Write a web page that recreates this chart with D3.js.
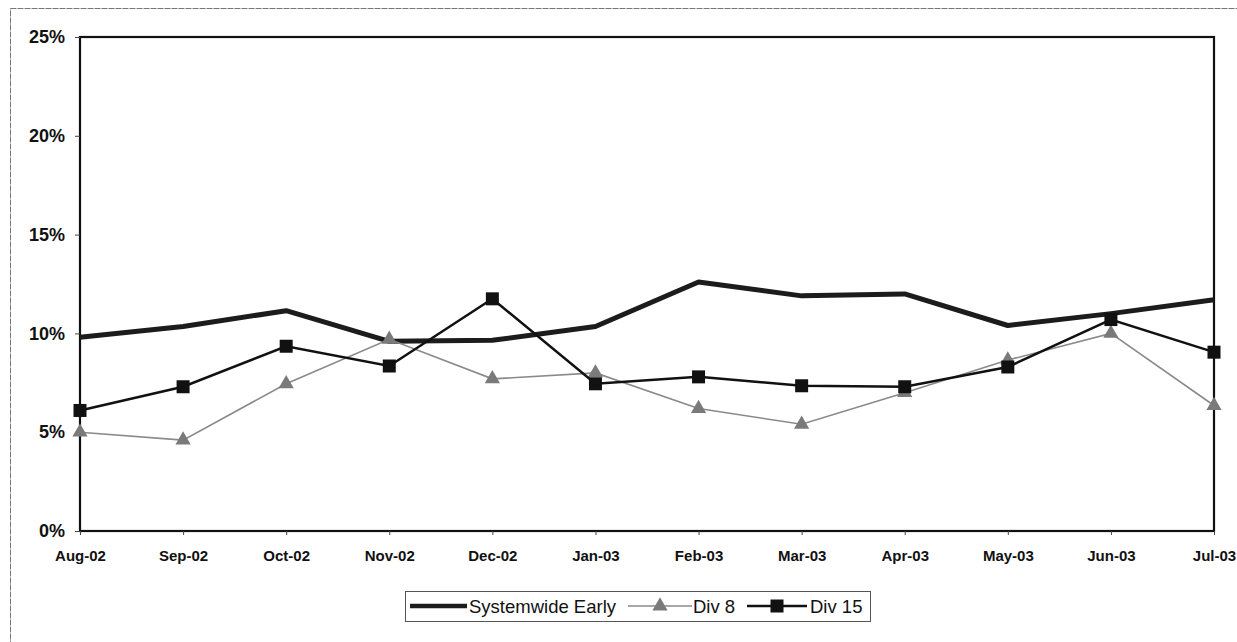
<!DOCTYPE html>
<html><head><meta charset="utf-8">
<script src="https://cdn.jsdelivr.net/npm/d3@7"></script>
<style>body{margin:0;background:#fff}svg{display:block}text{font-family:"Liberation Sans",Arial,sans-serif}</style>
</head><body><svg id="c" width="1237" height="642"></svg>
<script>
const months = ["Aug-02","Sep-02","Oct-02","Nov-02","Dec-02","Jan-03","Feb-03","Mar-03","Apr-03","May-03","Jun-03","Jul-03"];
const systemwide = [9.8,10.35,11.15,9.6,9.65,10.35,12.6,11.9,12.0,10.4,11.0,11.7];
const div8 = [5.0,4.6,7.45,9.7,7.7,8.0,6.2,5.4,7.0,8.65,10.0,6.35];
const div15 = [6.1,7.3,9.35,8.35,11.75,7.45,7.8,7.35,7.3,8.3,10.7,9.05];
const yTicks = [0,5,10,15,20,25];

const svg = d3.select("#c");
const L=80,R=1214,T=37,B=531;
const x = d3.scalePoint().domain(months).range([L,R]);
const y = d3.scaleLinear().domain([0,25]).range([B,T]);

// outer frame
svg.append("rect").attr("x",10.5).attr("y",8.5).attr("width",1240).attr("height",640)
  .attr("fill","none").attr("stroke","#777").attr("stroke-width",1).attr("stroke-dasharray","6,1");

// plot border
svg.append("rect").attr("x",L).attr("y",T).attr("width",R-L).attr("height",B-T)
  .attr("fill","none").attr("stroke","#111").attr("stroke-width",2.2);

// y axis
const ya = svg.append("g").attr("transform",`translate(${L},0)`)
  .call(d3.axisLeft(y).tickValues(yTicks).tickSize(5).tickFormat(d=>d+"%"));
ya.select(".domain").remove();
ya.selectAll("line").attr("stroke","#444");
ya.selectAll("text").style("font-size","18px").style("font-weight","bold").attr("fill","#111").attr("x",-15);

// x axis
const xa = svg.append("g").attr("transform",`translate(0,${B})`)
  .call(d3.axisBottom(x).tickSize(4));
xa.select(".domain").remove();
xa.selectAll("line").attr("stroke","#444");
xa.selectAll("text").style("font-size","15px").style("font-weight","bold").attr("fill","#111").attr("y",25).attr("dy","0.35em");

const line = d3.line().x((d,i)=>x(months[i])).y(d=>y(d));

svg.append("path").datum(systemwide).attr("d",line).attr("fill","none")
  .attr("stroke","#1c1c1c").attr("stroke-width",5).attr("stroke-linejoin","round");

svg.append("path").datum(div8).attr("d",line).attr("fill","none")
  .attr("stroke","#8a8a8a").attr("stroke-width",1.6);
svg.append("g").selectAll("path").data(div8).join("path")
  .attr("d",d3.symbol(d3.symbolTriangle,100)())
  .attr("transform",(d,i)=>`translate(${x(months[i])},${y(d)})`)
  .attr("fill","#7a7a7a");

svg.append("path").datum(div15).attr("d",line).attr("fill","none")
  .attr("stroke","#111").attr("stroke-width",2.5);
svg.append("g").selectAll("rect").data(div15).join("rect")
  .attr("x",(d,i)=>x(months[i])-6.5).attr("y",d=>y(d)-6.5).attr("width",13).attr("height",13)
  .attr("fill","#111");

// legend
const lg = svg.append("g").style("font-size","18.5px");
lg.append("rect").attr("x",405.5).attr("y",591.5).attr("width",465).attr("height",30)
  .attr("fill","#fff").attr("stroke","#555").attr("stroke-width",1);
lg.append("line").attr("x1",410).attr("x2",467).attr("y1",606).attr("y2",606).attr("stroke","#1c1c1c").attr("stroke-width",4.5);
lg.append("text").attr("x",469).attr("y",613).attr("fill","#111").text("Systemwide Early");
lg.append("line").attr("x1",628).attr("x2",692).attr("y1",606).attr("y2",606).attr("stroke","#8a8a8a").attr("stroke-width",1.6);
lg.append("path").attr("d",d3.symbol(d3.symbolTriangle,100)()).attr("transform","translate(660,606)").attr("fill","#7a7a7a");
lg.append("text").attr("x",693).attr("y",613).attr("fill","#111").text("Div 8");
lg.append("line").attr("x1",747).attr("x2",807).attr("y1",606).attr("y2",606).attr("stroke","#111").attr("stroke-width",2.5);
lg.append("rect").attr("x",770.5).attr("y",599.5).attr("width",13).attr("height",13).attr("fill","#111");
lg.append("text").attr("x",810).attr("y",613).attr("fill","#111").text("Div 15");
</script></body></html>
